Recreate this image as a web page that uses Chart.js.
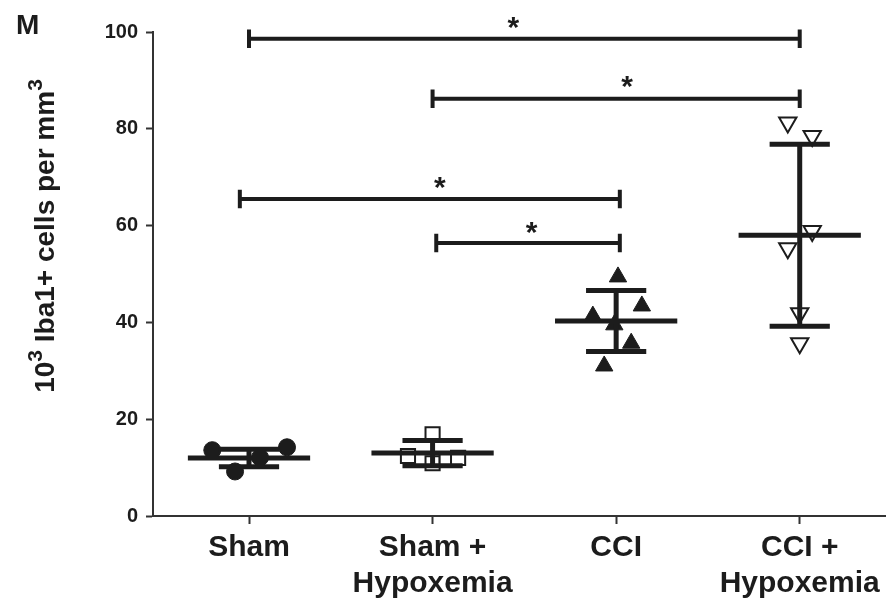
<!DOCTYPE html>
<html>
<head>
<meta charset="utf-8">
<script src="https://cdn.jsdelivr.net/npm/chart.js@4"></script>
<style>
html,body{margin:0;padding:0;background:#fff;}
#wrap{width:886px;height:603px;}
</style>
</head>
<body>
<div id="wrap"><canvas id="c" width="886" height="603"></canvas></div>
<script>
// ---- data ----
const categories = [['Sham'], ['Sham +', 'Hypoxemia'], ['CCI'], ['CCI +', 'Hypoxemia']];
const yTicks = [0, 20, 40, 60, 80, 100];

const shamValues = [13.6, 9.2, 12.1, 14.2];
const shamJitter = [-0.20, -0.076, 0.06, 0.207];
const shamHypValues = [16.9, 12.4, 10.9, 11.7, 12.0];
const shamHypJitter = [0.0, -0.134, 0.0, 0.077, 0.139];
const cciValues = [49.4, 43.4, 41.3, 39.5, 35.7, 31.0];
const cciJitter = [0.01, 0.14, -0.127, -0.01, 0.082, -0.065];
const cciHypValues = [81.3, 78.5, 58.9, 55.3, 41.9, 35.7];
const cciHypJitter = [-0.065, 0.068, 0.068, -0.065, 0.0, 0.0];

const groupMeans = [12.0, 13.0, 40.3, 58.0];
const groupSDs = [1.8, 2.6, 6.3, 18.8];

const sigStart = [0.0, 1.0, -0.05, 1.02];
const sigEnd = [3.0, 3.0, 2.02, 2.02];
const sigLevel = [98.6, 86.2, 65.5, 56.4];
const sigLabel = ['*', '*', '*', '*'];
const sigLabelX = [1.44, 2.06, 1.04, 1.54];
const sigLabelY = [101.9, 89.6, 68.7, 59.5];

// ---- style constants ----
const INK = '#1c1c1c';
const MEAN_HALF = 0.333;
const CAP_HALF = 0.164;
const SIG_CAP = 1.9;
const FONT = '"Liberation Sans", Arial, Helvetica, sans-serif';

function pts(vals, jit, c) { return vals.map((v, i) => ({ x: c + jit[i], y: v })); }

function meanSdData(i) {
  const m = groupMeans[i], s = groupSDs[i];
  return [
    { x: i - MEAN_HALF, y: m }, { x: i + MEAN_HALF, y: m }, { x: i, y: null },
    { x: i - CAP_HALF, y: m + s }, { x: i + CAP_HALF, y: m + s }, { x: i, y: null },
    { x: i - CAP_HALF, y: m - s }, { x: i + CAP_HALF, y: m - s }, { x: i, y: null },
    { x: i, y: m - s }, { x: i, y: m + s }
  ];
}
function sigData(k) {
  const a = sigStart[k], b = sigEnd[k], y = sigLevel[k];
  return [
    { x: a, y: y + SIG_CAP }, { x: a, y: y - SIG_CAP }, { x: a, y: null },
    { x: a, y: y }, { x: b, y: y }, { x: b, y: null },
    { x: b, y: y + SIG_CAP }, { x: b, y: y - SIG_CAP }
  ];
}

const datasets = [];
for (let i = 0; i < 4; i++) {
  datasets.push({ type: 'line', data: meanSdData(i), borderColor: INK, borderWidth: 5, pointRadius: 0, spanGaps: false, clip: false, order: 0, borderCapStyle: 'butt' });
}
for (let k = 0; k < sigLevel.length; k++) {
  datasets.push({ type: 'line', data: sigData(k), borderColor: INK, borderWidth: 4, pointRadius: 0, spanGaps: false, clip: false, order: 0, borderCapStyle: 'butt' });
}
datasets.push({ type: 'scatter', data: pts(shamValues, shamJitter, 0), pointStyle: 'circle', pointRadius: 8.5, backgroundColor: INK, borderColor: INK, borderWidth: 1, clip: false, order: 1 });
datasets.push({ type: 'scatter', data: pts(shamHypValues, shamHypJitter, 1), pointStyle: 'rect', pointRadius: 10, backgroundColor: '#fff', borderColor: INK, borderWidth: 2, clip: false, order: 1 });
datasets.push({ type: 'scatter', data: pts(cciValues, cciJitter, 2), pointStyle: 'triangle', pointRadius: 10, backgroundColor: INK, borderColor: INK, borderWidth: 1, clip: false, order: 1 });
datasets.push({ type: 'scatter', data: pts(cciHypValues, cciHypJitter, 3), pointStyle: 'triangle', rotation: 180, pointRadius: 10, backgroundColor: '#fff', borderColor: INK, borderWidth: 2, clip: false, order: 1 });

const annotPlugin = {
  id: 'annot',
  afterDatasetsDraw(chart) {
    const ctx = chart.ctx, xs = chart.scales.x, ys = chart.scales.y;
    ctx.save();
    ctx.fillStyle = INK;
    ctx.font = 'bold 30px ' + FONT;
    ctx.textAlign = 'center';
    ctx.textBaseline = 'alphabetic';
    for (let k = 0; k < sigLabel.length; k++) {
      const m = ctx.measureText(sigLabel[k]);
      const px = xs.getPixelForValue(sigLabelX[k]);
      const py = ys.getPixelForValue(sigLabelY[k]);
      const off = (m.actualBoundingBoxAscent - m.actualBoundingBoxDescent) / 2;
      ctx.fillText(sigLabel[k], px, py + off);
    }
    // panel letter
    ctx.textAlign = 'left';
    ctx.font = 'bold 28px ' + FONT;
    ctx.fillText('M', 16, 34);
    // y axis title with superscripts
    const parts = [['10', false], ['3', true], [' Iba1+ cells per mm', false], ['3', true]];
    const big = 'bold 28px ' + FONT, small = 'bold 21px ' + FONT;
    let total = 0;
    parts.forEach(p => { ctx.font = p[1] ? small : big; total += ctx.measureText(p[0]).width; });
    ctx.translate(54, 236);
    ctx.rotate(-Math.PI / 2);
    let x = -total / 2;
    parts.forEach(p => {
      ctx.font = p[1] ? small : big;
      ctx.fillText(p[0], x, p[1] ? -12 : 0);
      x += ctx.measureText(p[0]).width;
    });
    ctx.restore();
  }
};

new Chart(document.getElementById('c'), {
  type: 'scatter',
  data: { datasets },
  options: {
    responsive: false,
    animation: false,
    devicePixelRatio: 1,
    layout: { autoPadding: false, padding: { left: 0, top: 32, right: 0, bottom: 0 } },
    plugins: { legend: { display: false }, tooltip: { enabled: false } },
    scales: {
      x: {
        type: 'linear', min: -0.523, max: 3.47,
        afterBuildTicks: s => { s.ticks = [0, 1, 2, 3].map(v => ({ value: v })); },
        afterFit: s => { s.height = 87; s.paddingLeft = 0; s.paddingRight = 0; },
        ticks: { callback: v => categories[v], color: INK, font: { family: FONT, size: 30, weight: 'bold', lineHeight: 1.2 }, padding: 6, maxRotation: 0, autoSkip: false },
        grid: { drawOnChartArea: false, tickLength: 8, tickWidth: 2, color: '#333' },
        border: { display: true, color: '#333', width: 2 }
      },
      y: {
        type: 'linear', min: 0, max: 100,
        afterBuildTicks: s => { s.ticks = yTicks.map(v => ({ value: v })); },
        afterFit: s => { s.width = 153; s.paddingTop = 0; s.paddingBottom = 0; },
        ticks: { color: INK, font: { family: FONT, size: 20, weight: 'bold' }, padding: 8 },
        grid: { drawOnChartArea: false, tickLength: 7, tickWidth: 2, color: '#333' },
        border: { display: true, color: '#333', width: 2 }
      }
    }
  },
  plugins: [annotPlugin]
});
</script>
</body>
</html>
